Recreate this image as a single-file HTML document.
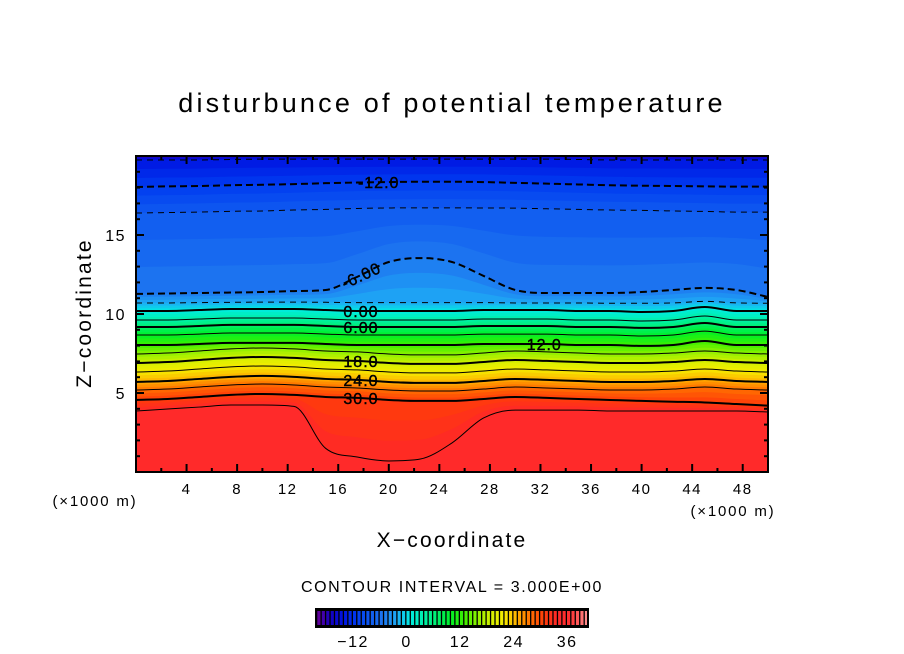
<!DOCTYPE html>
<html><head><meta charset="utf-8"><style>
html,body{margin:0;padding:0;background:#fff;}
svg{display:block;font-family:"Liberation Sans",sans-serif;}
</style></head><body>
<svg id="chart" width="904" height="654" viewBox="0 0 904 654">
<defs><clipPath id="plotclip"><rect x="136" y="156" width="632" height="316"/></clipPath></defs>
<text x="452" y="112" text-anchor="middle" font-size="27" letter-spacing="3.2">disturbunce of potential temperature</text>
<g id="plot" clip-path="url(#plotclip)"></g>
<g id="lines" clip-path="url(#plotclip)"></g>
<g id="clabels"></g>
<rect x="136" y="156" width="632" height="316" fill="none" stroke="#000" stroke-width="2"/>
<g id="ticks"></g>
<g id="xlabels"></g>
<g id="ylabels"></g>
<text x="95" y="506" text-anchor="middle" font-size="15" letter-spacing="1.8">(×1000 m)</text>
<text x="733" y="516" text-anchor="middle" font-size="15" letter-spacing="1.8">(×1000 m)</text>
<text x="452" y="547" text-anchor="middle" font-size="21" letter-spacing="2.2">X−coordinate</text>
<text transform="translate(91,313) rotate(-90)" text-anchor="middle" font-size="21" letter-spacing="2.2">Z−coordinate</text>
<text x="452" y="592" text-anchor="middle" font-size="16" letter-spacing="1.6">CONTOUR INTERVAL = 3.000E+00</text>
<g id="cbar"></g>
<g id="cbarlabels"></g>
</svg>
<script>
// ---- data ----
const xSamples = [0,2.5,5,7.5,10,12.5,15,17.5,20,22.5,25,27.5,30,32.5,35,37.5,40,42.5,45,47.5,50];
const levels = [-15,-12,-9,-6,-3,0,3,6,9,12,15,18,21,24,27,30,33];
const lvlM15 = [19.75,19.75,19.75,19.78,19.8,19.8,19.8,19.8,19.8,19.8,19.8,19.8,19.8,19.8,19.78,19.75,19.75,19.75,19.75,19.75,19.75];
const lvlM12 = [18.04,18.08,18.1,18.15,18.18,18.22,18.28,18.32,18.35,18.37,18.37,18.35,18.3,18.25,18.2,18.15,18.12,18.1,18.08,18.06,18.06];
const lvlM9 = [16.39,16.42,16.45,16.5,16.52,16.58,16.62,16.68,16.71,16.72,16.72,16.71,16.7,16.66,16.62,16.58,16.56,16.52,16.49,16.45,16.45];
const lvlM6 = [11.27,11.3,11.33,11.36,11.39,11.45,11.52,12.35,13.29,13.54,13.29,12.41,11.52,11.33,11.33,11.33,11.39,11.52,11.65,11.52,11.08];
const lvlM3 = [10.70,10.70,10.72,10.74,10.75,10.75,10.74,10.72,10.72,10.72,10.72,10.72,10.70,10.70,10.70,10.68,10.68,10.70,10.80,10.70,10.68];
const lvl0 = [10.19,10.19,10.25,10.32,10.32,10.32,10.25,10.19,10.19,10.19,10.19,10.25,10.25,10.25,10.19,10.19,10.13,10.19,10.44,10.19,10.19];
const lvl3 = [9.62,9.62,9.68,9.75,9.75,9.75,9.68,9.62,9.62,9.62,9.62,9.68,9.68,9.68,9.62,9.62,9.56,9.62,9.87,9.62,9.62];
const lvl6 = [9.18,9.18,9.24,9.31,9.31,9.31,9.24,9.18,9.18,9.18,9.18,9.24,9.24,9.24,9.18,9.18,9.12,9.18,9.43,9.18,9.18];
const lvl9 = [8.67,8.67,8.73,8.80,8.80,8.80,8.73,8.67,8.67,8.67,8.67,8.73,8.73,8.73,8.67,8.67,8.61,8.67,8.92,8.67,8.67];
const lvl12 = [8.04,8.04,8.10,8.17,8.17,8.17,8.10,8.04,8.04,8.04,8.04,8.10,8.10,8.10,8.04,8.04,7.98,8.04,8.29,8.04,8.04];
const lvl15 = [7.47,7.53,7.66,7.79,7.85,7.79,7.66,7.60,7.47,7.41,7.41,7.53,7.66,7.60,7.53,7.47,7.47,7.53,7.66,7.53,7.47];
const lvl18 = [6.90,6.96,7.09,7.22,7.28,7.22,7.09,7.03,6.90,6.84,6.84,6.96,7.09,7.03,6.96,6.90,6.90,6.96,7.09,6.96,6.90];
const lvl21 = [6.33,6.39,6.52,6.65,6.71,6.65,6.52,6.46,6.33,6.27,6.27,6.39,6.52,6.46,6.39,6.33,6.33,6.39,6.52,6.39,6.33];
const lvl24 = [5.70,5.76,5.89,6.02,6.08,6.02,5.89,5.83,5.70,5.64,5.64,5.76,5.89,5.83,5.76,5.70,5.70,5.76,5.89,5.76,5.70];
const lvl27 = [5.19,5.25,5.38,5.51,5.57,5.51,5.38,5.32,5.19,5.13,5.13,5.25,5.38,5.32,5.25,5.19,5.19,5.25,5.38,5.25,5.19];
const lvl30 = [4.56,4.62,4.75,4.88,4.94,4.88,4.75,4.69,4.56,4.50,4.50,4.62,4.75,4.69,4.62,4.56,4.50,4.45,4.40,4.30,4.20];
const lvl33 = [3.86,3.99,4.11,4.24,4.24,4.15,1.50,0.95,0.70,0.82,1.84,3.42,3.92,3.92,3.92,3.86,3.86,3.86,3.86,3.86,3.80];
const labelLevels = [-12,-6,0,6,12,18,24,30];
const labelText = ["-12.0","-6.00","0.00","6.00","12.0","18.0","24.0","30.0"];
const labelX = [19.2,17.8,17.8,17.8,32.3,17.8,17.8,17.8];
const xTicks = [4,8,12,16,20,24,28,32,36,40,44,48];
const yTicks = [5,10,15];
const cbarTicks = [-12,0,12,24,36];
const cbarMin = -21, cbarMax = 40;

const lines = [lvlM15,lvlM12,lvlM9,lvlM6,lvlM3,lvl0,lvl3,lvl6,lvl9,lvl12,lvl15,lvl18,lvl21,lvl24,lvl27,lvl30,lvl33];

// ---- scales ----
const X0=136,X1=768,Y0=472,Y1=156;
const sx = x => X0 + x*(X1-X0)/50;
const sy = z => Y0 - z*(Y0-Y1)/20;
const NS='http://www.w3.org/2000/svg';
function mk(tag, attrs, parent){const e=document.createElementNS(NS,tag);for(const k in attrs)e.setAttribute(k,attrs[k]);parent.appendChild(e);return e;}

const stops=[[-21,[110,0,150]],[-18,[20,0,190]],[-15,[0,20,225]],[-12,[0,60,240]],[-9,[16,90,240]],[-6,[30,120,240]],[-3,[30,170,245]],[0,[0,235,225]],[3,[0,240,170]],[6,[0,240,110]],[9,[0,240,40]],[12,[60,240,0]],[15,[140,240,0]],[18,[210,240,0]],[21,[245,235,0]],[24,[255,175,0]],[27,[255,110,0]],[30,[255,60,10]],[33,[255,40,40]],[36,[255,50,50]],[40,[255,150,150]]];
function cmap(v){
  if(v<=stops[0][0])return `rgb(${stops[0][1]})`;
  for(let i=1;i<stops.length;i++){if(v<=stops[i][0]){const a=stops[i-1],b=stops[i];const t=(v-a[0])/(b[0]-a[0]);
    const c=a[1].map((q,j)=>Math.round(q+(b[1][j]-q)*t));return `rgb(${c})`;}}
  return `rgb(${stops[stops.length-1][1]})`;
}
// monotone cubic path (no overshoot)
function pathD(arr){
  const p=xSamples.map((x,i)=>[sx(x),sy(arr[i])]);
  const n=p.length, d=[], m=[];
  for(let i=0;i<n-1;i++) d.push((p[i+1][1]-p[i][1])/(p[i+1][0]-p[i][0]));
  m[0]=d[0]; m[n-1]=d[n-2];
  for(let i=1;i<n-1;i++){ m[i]= (d[i-1]*d[i]<=0)?0:(d[i-1]+d[i])/2; }
  for(let i=0;i<n-1;i++){
    if(d[i]===0){m[i]=0;m[i+1]=0;continue;}
    const a=m[i]/d[i], b=m[i+1]/d[i], s=a*a+b*b;
    if(s>9){const t=3/Math.sqrt(s);m[i]=t*a*d[i];m[i+1]=t*b*d[i];}
  }
  let s=`M${p[0][0]},${p[0][1]}`;
  for(let i=0;i<n-1;i++){
    const h=(p[i+1][0]-p[i][0])/3;
    s+=` C${p[i][0]+h},${p[i][1]+m[i]*h} ${p[i+1][0]-h},${p[i+1][1]-m[i+1]*h} ${p[i+1][0]},${p[i+1][1]}`;
  }
  return s;
}
function interpAt(arr,x){
  for(let i=0;i<xSamples.length-1;i++){if(x<=xSamples[i+1]){const t=(x-xSamples[i])/(xSamples[i+1]-xSamples[i]);return arr[i]+(arr[i+1]-arr[i])*t;}}
  return arr[arr.length-1];
}

// ---- fills ----
const plot=document.getElementById('plot');
const bg=mk('rect',{x:136,y:156,width:632,height:316,fill:cmap(-19)},plot);


const topArr=xSamples.map(()=>20);
const bandColors=[];
for(let k=0;k<levels.length;k++){
  const lower=lines[k];
  const upper = k===0 ? topArr : lines[k-1];
  const vUp = k===0 ? -18 : levels[k-1];
  for(let s=1;s<=3;s++){
    const t=s/3;
    const arr = s===3 ? lower : upper.map((u,i)=>u+(lower[i]-u)*t);
    const v = vUp + (levels[k]-vUp)*t;
    const d=pathD(arr)+` L${X1+2},${Y0+2} L${X0-2},${Y0+2} Z`;
    const bandPath=mk('path',{d:d,fill:cmap(v+0.5)},plot);
    
    
  }
}
const lastBand=mk('path',{d:pathD(lvl33)+` L${X1+2},${Y0+2} L${X0-2},${Y0+2} Z`,fill:'#ff2a2a'},plot);



// ---- contour lines ----
const lg=document.getElementById('lines');
levels.forEach((lv,k)=>{
  const thick = lv%6===0;
  const attrs={d:pathD(lines[k]),fill:'none',stroke:'#000','stroke-width':thick?2:1};
  if(lv<0) attrs['stroke-dasharray']=thick?'7,4':'6,5';
  const ln=mk('path',attrs,lg);
  
  
});

// ---- contour labels ----
const cl=document.getElementById('clabels');
labelLevels.forEach((lv,i)=>{
  const k=levels.indexOf(lv);
  const z=interpAt(lines[k],labelX[i]);
  const x=sx(labelX[i]), y=sy(z);
  const rot = lv===-6 ? -25 : 0;
  const t=mk('text',{x:x,y:y+6,'text-anchor':'middle','font-size':16,'letter-spacing':1,stroke:'#000','stroke-width':0.4,transform:`rotate(${rot},${x},${y})`},cl);
  t.textContent=labelText[i];
  
  
});

// ---- ticks ----
const tg=document.getElementById('ticks');
for(let x=2;x<50;x+=2){
  const L = x%4===0?8:4;
  mk('line',{x1:sx(x),x2:sx(x),y1:Y0,y2:Y0-L,stroke:'#000','stroke-width':2},tg);
  mk('line',{x1:sx(x),x2:sx(x),y1:Y1,y2:Y1+L,stroke:'#000','stroke-width':2},tg);
}
for(let z=1;z<20;z++){
  const L = z%5===0?8:4;
  mk('line',{x1:X0,x2:X0+L,y1:sy(z),y2:sy(z),stroke:'#000','stroke-width':2},tg);
  mk('line',{x1:X1,x2:X1-L,y1:sy(z),y2:sy(z),stroke:'#000','stroke-width':2},tg);
}
const xl=document.getElementById('xlabels');
xTicks.forEach(v=>{const t=mk('text',{x:sx(v),y:494,'text-anchor':'middle','font-size':15,'letter-spacing':1.5},xl);t.textContent=v;
  
  });
const yl=document.getElementById('ylabels');
yTicks.forEach(v=>{const t=mk('text',{x:126,y:sy(v)+6,'text-anchor':'end','font-size':16,'letter-spacing':1.5},yl);t.textContent=v;
  
  });

// ---- colorbar ----
const cb=document.getElementById('cbar');
const CB0=316,CB1=588,CBY=609,CBH=18;
const cs = v => CB0 + (v-cbarMin)*(CB1-CB0)/(cbarMax-cbarMin);
mk('rect',{x:CB0,y:CBY,width:CB1-CB0,height:CBH,fill:'#000'},cb);
for(let v=cbarMin;v<cbarMax;v++){
  const r=mk('rect',{x:cs(v)+1.3,y:CBY+2,width:cs(v+1)-cs(v)-1.3,height:CBH-4,fill:cmap(v+0.5)},cb);
  
  
}
mk('rect',{x:CB0,y:CBY,width:CB1-CB0,height:CBH,fill:'none',stroke:'#000','stroke-width':2},cb);
const cbl=document.getElementById('cbarlabels');
cbarTicks.forEach(v=>{const t=mk('text',{x:cs(v)-3,y:647,'text-anchor':'middle','font-size':16,'letter-spacing':1.5},cbl);t.textContent=v<0?'−'+(-v):v;
  
  });
</script>
</body></html>
